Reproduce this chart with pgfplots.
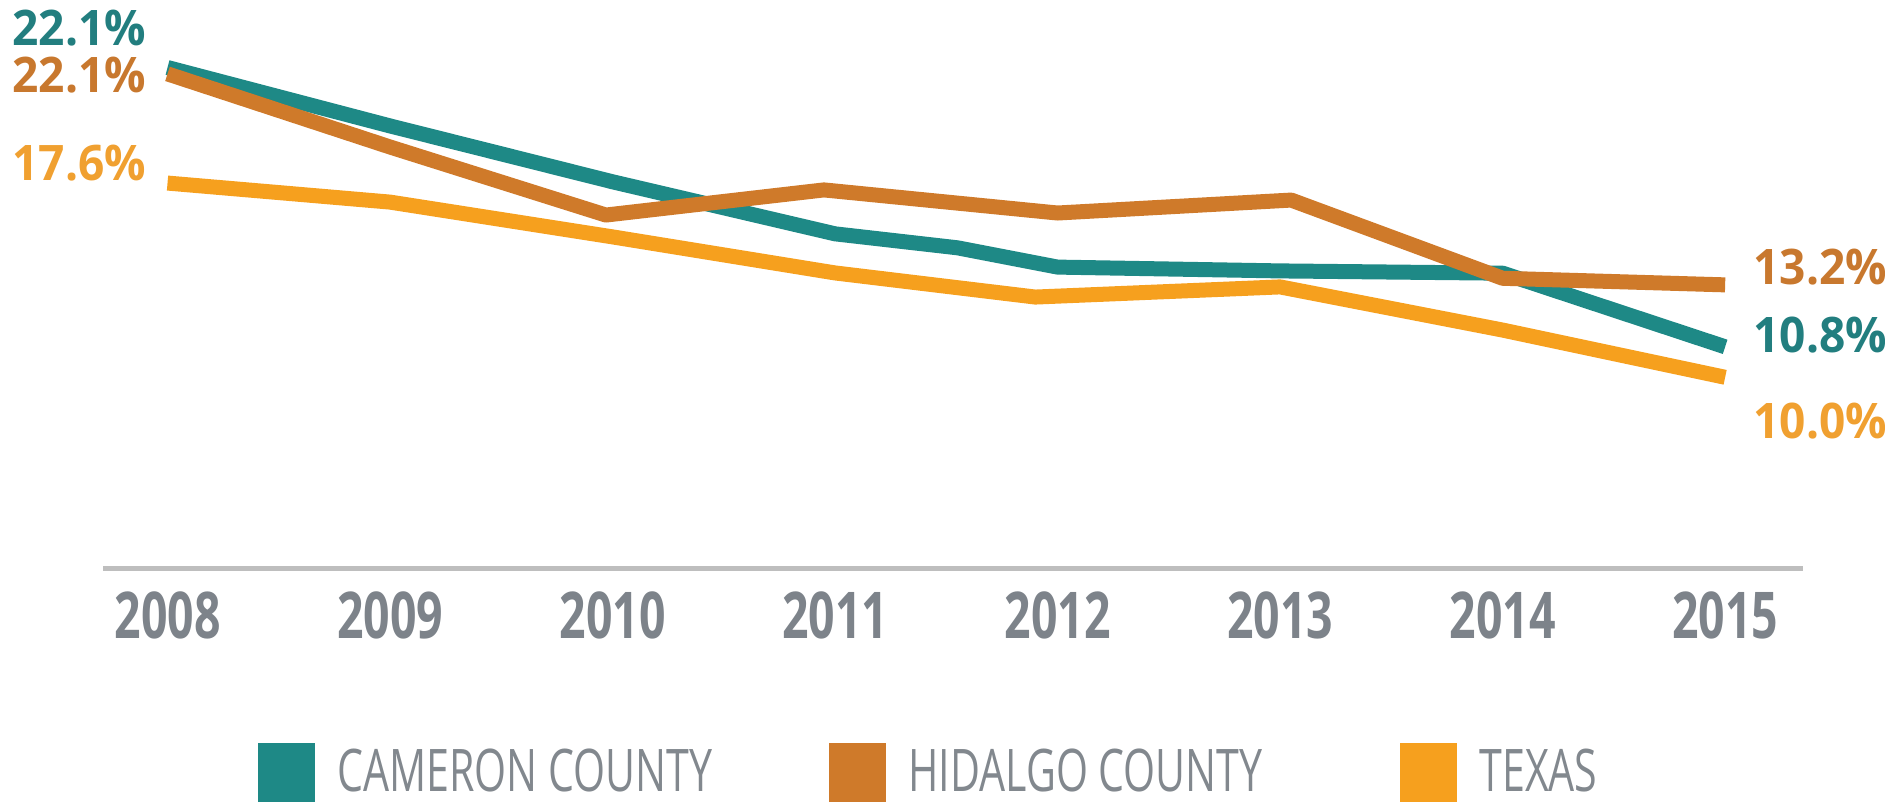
\documentclass[border=0pt]{standalone}
\usepackage{pgfplots}
\pgfplotsset{compat=1.18}
\usepackage{fontspec}
\setmainfont{Open Sans}
\newfontfamily\tickfont[FakeStretch=0.72]{Open Sans}
\newfontfamily\labfont[FakeStretch=0.94]{Open Sans}
\newfontfamily\legfont[FakeStretch=0.70]{Open Sans}
\definecolor{tealc}{RGB}{30,137,134}
\definecolor{tealt}{RGB}{34,126,127}
\definecolor{hidc}{RGB}{207,122,42}
\definecolor{hidt}{RGB}{200,120,46}
\definecolor{texc}{RGB}{246,160,30}
\definecolor{text}{RGB}{240,160,48}
\definecolor{tickgray}{RGB}{125,131,138}
\definecolor{axgray}{RGB}{190,190,190}
\definecolor{leggray}{RGB}{130,136,142}
\begin{document}
\begin{tikzpicture}
\path[use as bounding box] (-41.2pt,-95.2pt) rectangle (712.8pt,227.6pt);
\begin{axis}[
  at={(0,0)}, anchor=south west,
  scale only axis, width=680pt, height=227.6pt,
  xmin=2007.71, xmax=2015.35, ymin=2.45, ymax=24.86,
  axis x line=bottom, axis y line=none,
  x axis line style={-, line width=2pt, draw=axgray},
  xtick={2008,2009,2010,2011,2012,2013,2014,2015},
  xticklabels={2008,2009,2010,2011,2012,2013,2014,2015},
  ytick=\empty,
  major tick length=0pt, tick style={draw=none},
  x tick label style={anchor=center, inner sep=0pt, yshift=-18.4pt,
    text=tickgray, font=\tickfont\bfseries\fontsize{25.8pt}{26pt}\selectfont},
  clip=false,
  legend columns=3,
  legend cell align=left,
  legend style={at={(axis description cs:0.0912,-0.3576)}, anchor=west,
    draw=none, fill=none, inner sep=0pt, outer sep=0pt,
    /tikz/every odd column/.append style={column sep=9pt},
    nodes={inner sep=0pt, anchor=west, text=leggray},
    font=\legfont\fontsize{23.5pt}{24pt}\selectfont},
  legend image code/.code={\fill[#1, draw=none] (0pt,-11.8pt) rectangle (22.8pt,11.8pt);},
]
\addplot[color=tealc, line width=6pt, line join=round] coordinates {
  (2008,22.2) (2009,19.9) (2010,17.7) (2011,15.65) (2011.55,15.1)
  (2012,14.34) (2013,14.19) (2014,14.1) (2015,11.2)};
\addlegendentry{\makebox[196.6pt][l]{CAMERON COUNTY}}
\addplot[color=texc, line width=6pt, line join=round, forget plot] coordinates {
  (2008,17.65) (2009,16.9) (2010,15.53) (2011,14.11) (2011.9,13.16)
  (2013,13.56) (2014,11.86) (2015,10.0)};
\addplot[color=hidc, line width=6pt, line join=round] coordinates {
  (2008,21.95) (2009,19.07) (2009.97,16.39) (2010.95,17.38) (2012,16.47)
  (2013.05,16.98) (2014,13.9) (2015,13.64)};
\addlegendentry{\makebox[196.6pt][l]{HIDALGO COUNTY}}
\addlegendimage{color=texc}
\addlegendentry{TEXAS}
\node[anchor=west, inner sep=0pt, text=tealt, font=\labfont\bfseries\fontsize{19.6pt}{20pt}\selectfont] at (axis cs:2007.301,23.77) {22.1\%};
\node[anchor=west, inner sep=0pt, text=hidt, font=\labfont\bfseries\fontsize{19.6pt}{20pt}\selectfont] at (axis cs:2007.301,21.9) {22.1\%};
\node[anchor=west, inner sep=0pt, text=text, font=\labfont\bfseries\fontsize{19.6pt}{20pt}\selectfont] at (axis cs:2007.301,18.42) {17.6\%};
\node[anchor=west, inner sep=0pt, text=hidt, font=\labfont\bfseries\fontsize{19.6pt}{20pt}\selectfont] at (axis cs:2015.125,14.36) {13.2\%};
\node[anchor=west, inner sep=0pt, text=tealt, font=\labfont\bfseries\fontsize{19.6pt}{20pt}\selectfont] at (axis cs:2015.125,11.65) {10.8\%};
\node[anchor=west, inner sep=0pt, text=text, font=\labfont\bfseries\fontsize{19.6pt}{20pt}\selectfont] at (axis cs:2015.125,8.28) {10.0\%};
\end{axis}
\end{tikzpicture}
\end{document}
